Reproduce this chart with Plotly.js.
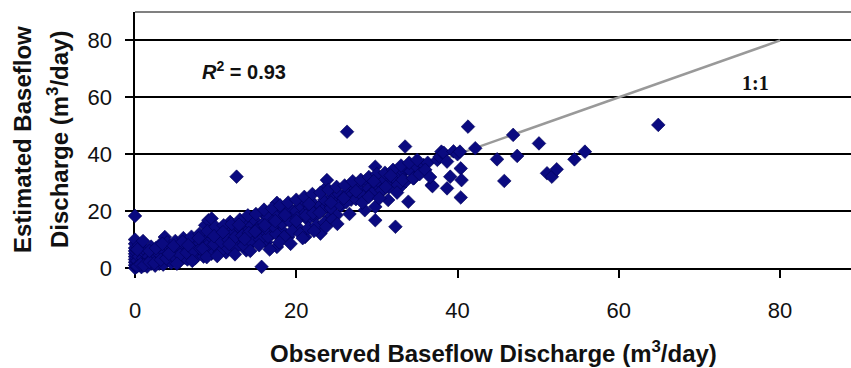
<!DOCTYPE html>
<html>
<head>
<meta charset="utf-8">
<script src="https://cdn.plot.ly/plotly-3.0.1.min.js"></script>
<style>html,body{margin:0;padding:0;background:#fff;}#chart{width:851px;height:368px;}</style>
</head>
<body>
<div id="chart"></div>
<script>
// Observed vs estimated baseflow discharge (m3/day)
var obsX = [
0,0,0,0,0,0,0,0,0,0,0,0.2,0.3,0.5,0.5,0.6,0.8,1,1,1.2,1.3,1.5,1.7,2,2,2.2,2.5,2.8,3,3,3.3,3.5,3.7,4,4,4.3,4.6,5,5,5.4,5.8,6,6.2,6.5,6.8,7,7.2,7.5,7.8,8,8.2,8.5,8.7,9.1,9.5,9,9.3,9.6,10,10,10.3,10.6,11,11,11.3,11.5,11.8,12,12.3,12.6,12.8,13,13.2,13.5,13.8,14,14.2,14.5,14.8,15,15.2,15.7,15.9,15.9,16,16.3,16.5,16.8,17,17.3,17.6,17.6,17.8,18,18.3,18.5,18.8,19,19.2,19.5,19.8,20,20.3,20.5,20.9,21.1,21,21.4,21.7,22,22.3,22.6,23,23,23.4,23.5,23.8,24,24.2,24.5,25,25,25.3,25.6,26,26.3,26.5,26.8,27,27.3,27.6,27.9,28,28.5,28.7,29,29.3,29.8,29.8,29.8,30,30.4,30.8,31,31.4,31.8,32,32.3,32.9,33,33.3,33.5,33.7,33.9,34.2,35,35.8,36.3,36.8,36.9,37.5,37.8,38,38.3,38.7,38.7,39.1,39.5,40,40.3,40.4,40.4,40.5,41.3,42.2,44.9,45.8,46.9,47.4,50.1,51.1,51.7,52.3,54.5,55.8,64.9,
1.5,2.5,3.5,4.5,5.5,6.5,7.5,8.5,9.5,10.5,11.5,12.5,13.5,14.5,15.5,16.5,17.5,18.5,19.5,20.5,21.5,22.5,23.5,24.5,
1,2,3,4,5,6,7,8,9,10,11,12,13,14,15,16,17,18,19,20,21,22,23,24,25,26,27,28,29,30,31,32,33,34,35,
0.3,0.7,1.1,1.8,2.4,3.2,3.9,4.8,5.6,6.4,7.3,8.1,8.9,9.8,10.7,11.6,12.4,13.3,14.1,15.1,16.2,17.1,18.2,19.1,20.1,21.2,22.1,23.2,24.3,25.4,26.2,27.4,28.3,29.4,30.6,31.5,32.6,33.6,34.6,
0.5,1,0.3,1.8,2.6,3.4,4.2,4.8,5.2,5.9,6.6,7.1,7.9,8.4,8.9,9.8,10.2,10.9,11.7,12.4,12.9,13.6,14.3,14.9,15.4,16.1,16.7,17.4,17.9,18.6,19.3,20,20.8,21.6,22.2,22.9,23.7,24.3,25.1,25.9,26.6,27.4,28.2,29,29.6,30.3,31.1,31.7,32.5,33.2,34.5,35.3,36,36.6
];
var estY = [
0,1,2,3,4,5,6,7,8.5,10,18.3,0.5,2.5,1,4,6,0.3,2,3.5,1,5,2.5,4,1.5,3,5.5,2,4,1.5,5,3,6,10.9,2.5,4.5,7,3.5,5.5,2.8,8,4.5,6.5,3.6,9,5.5,7.5,4.5,10,6.5,8.5,5,11,15,16.8,17.4,7.5,9.5,12,6,10.5,8,13,9.5,11.5,5.5,14,16.2,10,12.5,32.1,8,14,11,16,6.2,13,9,15,17,11,14,0.4,12.1,19.2,16,9,18,14,12,17,22.9,7.4,19,15,13,20,17,10.9,21,16,18.5,20,14,22,23.9,10.9,19,17,21,23,18,20.5,12.1,22,27.4,24,30.9,21,18,25,18.6,23,26,22,25,47.9,27,24,26,28,25,29.7,27,20.3,30.9,28,26,35.6,21.5,16.8,29,30,27.5,31,23.9,30,32,14.5,28.5,33,33.8,42.7,35,23.3,34,35.5,36.2,37,29.1,28.8,38,39.1,40.9,40.5,37.4,28,32.1,41,40,40.9,35,24.8,30.9,49.7,42.1,38.2,30.6,46.8,39.4,43.8,33.3,32.1,34.7,38.2,40.9,50.3,
0.5,0.8,1.2,1.8,2.2,3,3.5,4,5,5.5,7,7,8,9,10,11,12,11,13,12,14,15,16,17,
7,7.5,8,9,9.5,10.5,11,12,13,14.5,15,15.5,17,18.5,19,20.5,21,22,23,24,25,26,26.5,27.5,28.5,29,30.5,31,32,33,33.5,34.5,36,37,38,
0.6,1.3,0.9,2.1,1.7,2.9,3.4,4.1,4.6,5.4,6.1,6.8,7.6,8.3,9.2,9.9,10.8,11.4,12.3,13.2,14.1,14.9,15.8,16.6,17.5,18.4,19.3,20.2,21.1,22.3,23.1,24.2,25.1,26.2,27.3,28.4,29.2,30.5,31.6,
8,9.5,6.5,6,7,8.5,5,7.8,1.5,9.2,8,2.5,10.5,6.8,3.8,11.2,4.2,12.6,8.4,4.8,15.2,10.2,6,12.8,8,15,6.5,16.5,9,18.6,8.5,16.5,10.5,22.5,13,19.5,14.5,23,15.5,24.5,19,27,23,25,30.5,24.5,28.5,32.5,26.5,31,31.5,33,34.5,32
];
var lineX = [0, 80];
var lineY = [0, 80];
var xTicks = [0, 20, 40, 60, 80];
var yTicks = [0, 20, 40, 60, 80];

var font = 'Liberation Sans, Arial, sans-serif';
var traces = [
  {x: lineX, y: lineY, mode: 'lines', type: 'scatter', hoverinfo: 'skip',
   line: {color: '#999999', width: 2.5}, cliponaxis: false},
  {x: obsX, y: estY, mode: 'markers', type: 'scatter', cliponaxis: false,
   marker: {symbol: 'diamond', size: 10.5, color: '#0a0a80', line: {color: '#000058', width: 0.6}}}
];
var layout = {
  width: 851, height: 368,
  margin: {l: 135, r: 0, t: 12, b: 100, pad: 0},
  paper_bgcolor: '#fff', plot_bgcolor: '#fff',
  showlegend: false,
  font: {family: font, color: '#111'},
  xaxis: {range: [0, 88.8], tickvals: xTicks, ticktext: xTicks.map(String),
    showgrid: false, zeroline: false, showline: true, linecolor: '#000', linewidth: 2,
    ticks: 'outside', ticklen: 8, tickwidth: 2, tickcolor: '#000',
    tickfont: {family: font, size: 22, color: '#111'}, ticklabelstandoff: 14, layer: 'below traces'},
  yaxis: {range: [0, 90], tickvals: yTicks, ticktext: yTicks.map(String),
    showgrid: true, gridcolor: '#000', gridwidth: 2, zeroline: false,
    showline: true, linecolor: '#000', linewidth: 2.5,
    ticks: 'outside', ticklen: 8, tickwidth: 2, tickcolor: '#000',
    tickfont: {family: font, size: 22, color: '#111'}, ticklabelstandoff: 8, layer: 'below traces'},
  shapes: [
    {type: 'line', xref: 'paper', yref: 'paper', x0: 0, x1: 1, y0: 1, y1: 1,
     line: {color: '#808080', width: 2}}
  ],
  annotations: [
    {xref: 'x', yref: 'y', x: 13.5, y: 69.3, text: '<b><i>R</i><sup>2</sup> = 0.93</b>', showarrow: false,
     font: {family: font, size: 20, color: '#111'}},
    {xref: 'x', yref: 'y', x: 76.9, y: 65, text: '<b>1:1</b>', showarrow: false,
     font: {family: 'Liberation Serif, Times New Roman, serif', size: 20, color: '#111'}},
    {xref: 'paper', yref: 'paper', x: 0.5, y: 0, yanchor: 'middle', yshift: -84,
     text: '<b>Observed Baseflow Discharge (m<sup>3</sup>/day)</b>', showarrow: false,
     font: {family: font, size: 24, color: '#111'}},
    {xref: 'paper', yref: 'paper', x: 0, y: 0.5, xanchor: 'center', yanchor: 'middle', xshift: -113,
     textangle: -90, text: '<b>Estimated Baseflow</b>', showarrow: false,
     font: {family: font, size: 24, color: '#111'}},
    {xref: 'paper', yref: 'paper', x: 0, y: 0.5, xanchor: 'center', yanchor: 'middle', xshift: -77,
     textangle: -90, text: '<b>Discharge (m<sup>3</sup>/day)</b>', showarrow: false,
     font: {family: font, size: 24, color: '#111'}}
  ]
};
Plotly.newPlot('chart', traces, layout, {displayModeBar: false, staticPlot: true});
</script>
</body>
</html>
